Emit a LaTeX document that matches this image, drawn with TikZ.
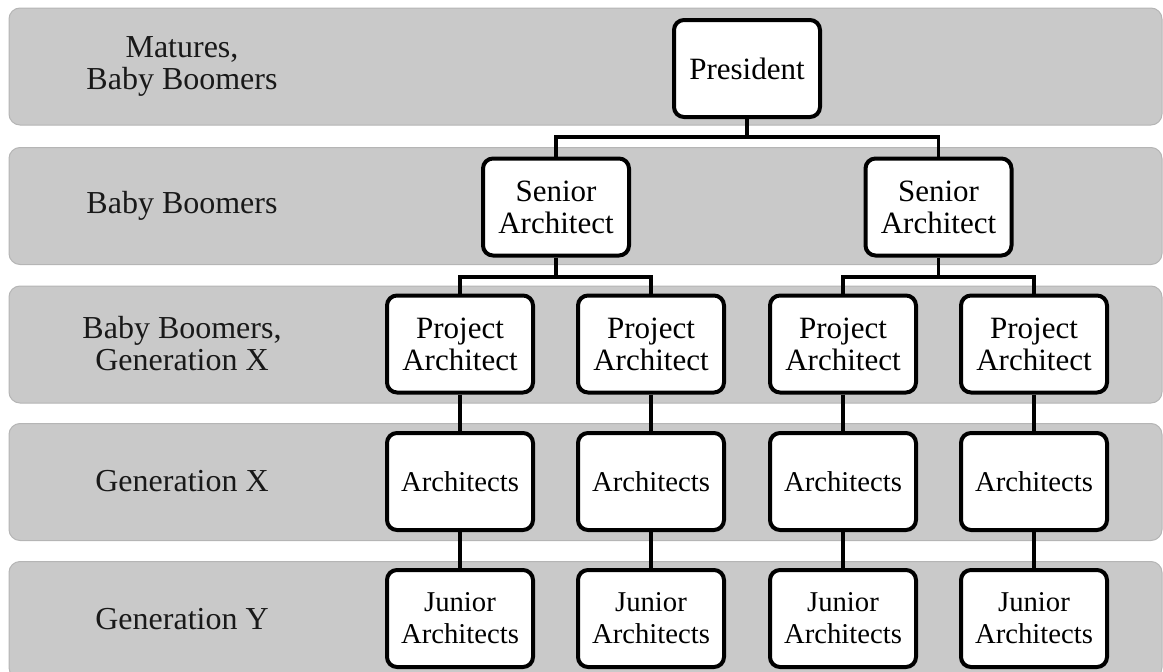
\documentclass[tikz,border=0pt]{standalone}
\usepackage{fontspec}
\setmainfont{Liberation Serif}
\definecolor{bandfill}{HTML}{C9C9C9}
\definecolor{bandline}{HTML}{B5B5B5}
\begin{document}
\begin{tikzpicture}[x=1pt,y=-1pt,
  band/.style={draw=bandline,fill=bandfill,line width=1pt,rounded corners=11pt,
    minimum width=1153pt,minimum height=117pt,inner sep=0pt},
  glabel/.style={align=center,font=\fontsize{32}{32}\selectfont,text=black!90},
  orgbox/.style={draw=black,fill=white,line width=4pt,rounded corners=10pt,
    minimum width=146pt,minimum height=97pt,inner sep=0pt,align=center,
    font=\fontsize{31}{32}\selectfont},
  smallbox/.style={orgbox,font=\fontsize{28.7}{32}\selectfont},
  conn/.style={draw=black,line width=3.5pt}]
\useasboundingbox (0,0) rectangle (1163,672);
\clip (0,0) rectangle (1163,672);
% bands
\node[band] (b1) at (585.5,66.5) {};
\node[band] (b2) at (585.5,206) {};
\node[band] (b3) at (585.5,344.5) {};
\node[band] (b4) at (585.5,482) {};
\node[band] (b5) at (585.5,620) {};
% generation labels
\node[glabel] (l1) at (182,66) {Matures,\\Baby Boomers};
\node[glabel] (l2) at (182,206) {Baby Boomers};
\node[glabel] (l3) at (182,344) {Baby Boomers,\\Generation X};
\node[glabel] (l4) at (182,481) {Generation X};
\node[glabel] (l5) at (182,619) {Generation Y};
% coordinates for bus lines
\coordinate (h1) at (0,137);
\coordinate (h2) at (0,277);
% boxes
\node[orgbox] (pres) at (747,68.5) {President};
\node[orgbox] (s1) at (556,207) {Senior\\Architect};
\node[orgbox] (s2) at (938.5,207) {Senior\\Architect};
\node[orgbox] (p1) at (460,344) {Project\\Architect};
\node[orgbox] (p2) at (651,344) {Project\\Architect};
\node[orgbox] (p3) at (843,344) {Project\\Architect};
\node[orgbox] (p4) at (1034,344) {Project\\Architect};
\node[smallbox] (a1) at (460,481.5) {Architects};
\node[smallbox] (a2) at (651,481.5) {Architects};
\node[smallbox] (a3) at (843,481.5) {Architects};
\node[smallbox] (a4) at (1034,481.5) {Architects};
\node[smallbox] (j1) at (460,618.5) {Junior\\Architects};
\node[smallbox] (j2) at (651,618.5) {Junior\\Architects};
\node[smallbox] (j3) at (843,618.5) {Junior\\Architects};
\node[smallbox] (j4) at (1034,618.5) {Junior\\Architects};
% connectors
\draw[conn] (pres.south) -- (pres.south |- h1);
\draw[conn] (s1.north) |- (pres.south |- h1) -| (s2.north);
\draw[conn] (s1.south) -- (s1.south |- h2);
\draw[conn] (p1.north) |- (s1.south |- h2) -| (p2.north);
\draw[conn] (s2.south) -- (s2.south |- h2);
\draw[conn] (p3.north) |- (s2.south |- h2) -| (p4.north);
\draw[conn] (p1.south) -- (a1.north);
\draw[conn] (p2.south) -- (a2.north);
\draw[conn] (p3.south) -- (a3.north);
\draw[conn] (p4.south) -- (a4.north);
\draw[conn] (a1.south) -- (j1.north);
\draw[conn] (a2.south) -- (j2.north);
\draw[conn] (a3.south) -- (j3.north);
\draw[conn] (a4.south) -- (j4.north);
\end{tikzpicture}
\end{document}
